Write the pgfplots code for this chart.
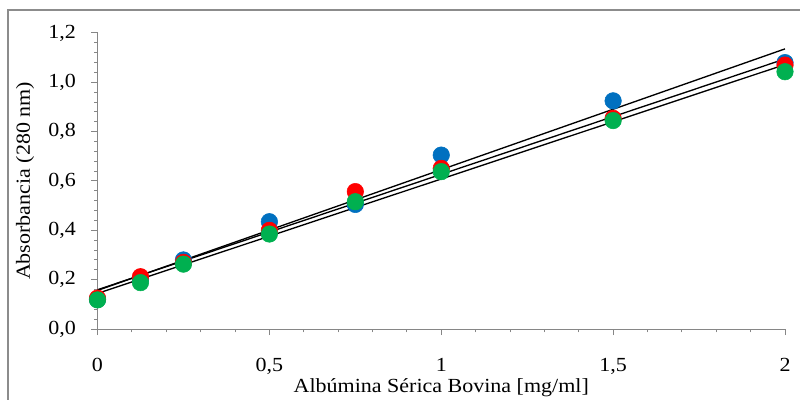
\documentclass[border=0pt]{standalone}
\usepackage{fontspec}
\setmainfont{Liberation Serif}
\usepackage{pgfplots}
\usepackage{pgfplotstable}
\pgfplotsset{compat=1.18}
\definecolor{cblue}{HTML}{0070C0}
\definecolor{cred}{HTML}{FF0000}
\definecolor{cgreen}{HTML}{00B050}
\definecolor{axgray}{HTML}{868686}
\definecolor{bordergray}{HTML}{8C8C8C}

\pgfplotstableread{
x     b     r     g
0     0.120 0.125 0.118
0.125 0.200 0.212 0.188
0.25  0.280 0.270 0.263
0.5   0.435 0.400 0.385
0.75  0.505 0.557 0.516
1     0.705 0.651 0.638
1.5   0.925 0.854 0.845
2     1.080 1.070 1.043
}\datatable

\begin{document}
\fontsize{15}{17}\selectfont
\begin{tikzpicture}
\useasboundingbox (0,0) rectangle (600pt,300pt);
\clip (0,0) rectangle (600pt,300pt);
\draw[bordergray, line width=1.5pt] (6pt,-10pt) rectangle (610pt,292.5pt);
\begin{axis}[
  at={(73.125pt,53.25pt)}, anchor=south west,
  scale only axis, width=515.625pt, height=222pt,
  xmin=0, xmax=2, ymin=0, ymax=1.2,
  axis x line=bottom, axis y line=left,
  axis line style={-, draw=axgray, line width=0.75pt},
  xtick={0,0.5,1,1.5,2}, minor x tick num=4,
  ytick={0,0.2,0.4,0.6,0.8,1.0,1.2}, minor y tick num=4,
  tick align=outside,
  tick style={draw=axgray, line width=0.75pt},
  major tick length=4.5pt, minor tick length=2.5pt,
  /pgf/number format/assume math mode=true,
  x tick label style={/pgf/number format/.cd, use comma, /tikz/.cd, yshift=-12pt, xscale=1.1},
  y tick label style={/pgf/number format/.cd, fixed, fixed zerofill, precision=1, use comma, /tikz/.cd, xshift=-6pt, xscale=1.1},
  xlabel={\scalebox{1.1}[1]{Albúmina Sérica Bovina [mg/ml]}},
  ylabel={\scalebox{1.1}[1]{Absorbancia (280 nm)}},
  xlabel style={at={(axis description cs:0.5,-0.1993)}, anchor=center},
  ylabel style={at={(axis description cs:-0.1055,0.5)}, anchor=center},
  clip=false,
]
\addplot[only marks, mark=*, mark size=6.2pt, mark options={fill=cblue, draw=cblue}] table[x=x, y=b] {\datatable};
\addplot[only marks, mark=*, mark size=6.2pt, mark options={fill=cred, draw=cred}] table[x=x, y=r] {\datatable};
\addplot[only marks, mark=*, mark size=6.2pt, mark options={fill=cgreen, draw=cgreen}] table[x=x, y=g] {\datatable};
\addplot[black, line width=1pt, no marks] table[x=x, y={create col/linear regression={y=b}}] {\datatable};
\addplot[black, line width=1pt, no marks] table[x=x, y={create col/linear regression={y=r}}] {\datatable};
\addplot[black, line width=1pt, no marks] table[x=x, y={create col/linear regression={y=g}}] {\datatable};
\end{axis}
\end{tikzpicture}
\end{document}
